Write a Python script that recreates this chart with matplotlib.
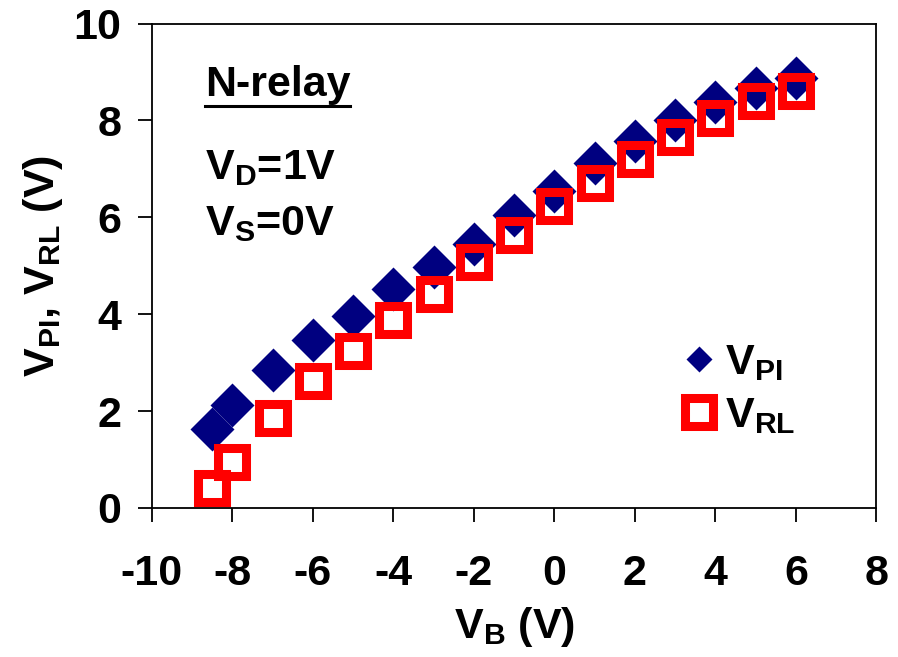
import matplotlib
matplotlib.use("Agg")
import matplotlib.pyplot as plt
from matplotlib.lines import Line2D
from matplotlib.transforms import IdentityTransform

# bias voltage V_B (V)
vb = [-8.5, -8, -7, -6, -5, -4, -3, -2, -1, 0, 1, 2, 3, 4, 5, 6]
# pull-in voltage
v_pi = [1.62, 2.12, 2.84, 3.46, 3.96, 4.52, 4.98, 5.45, 6.05, 6.55, 7.12, 7.57, 8.0, 8.38, 8.68, 8.88]
# release voltage
v_rl = [0.41, 0.95, 1.85, 2.63, 3.23, 3.89, 4.42, 5.08, 5.64, 6.24, 6.71, 7.2, 7.65, 8.05, 8.4, 8.6]

xticks = [-10, -8, -6, -4, -2, 0, 2, 4, 6, 8]
yticks = [0, 2, 4, 6, 8, 10]

plt.rcParams['font.family'] = ['Liberation Sans', 'DejaVu Sans']
plt.rcParams['font.weight'] = 'bold'
plt.rcParams['axes.labelweight'] = 'bold'
plt.rcParams['axes.unicode_minus'] = False
plt.rcParams['mathtext.fontset'] = 'custom'
plt.rcParams['mathtext.rm'] = 'Liberation Sans:bold'
plt.rcParams['mathtext.it'] = 'Liberation Sans:bold'
plt.rcParams['mathtext.bf'] = 'Liberation Sans:bold'
plt.rcParams['mathtext.default'] = 'regular'

FS = 31

fig = plt.figure(figsize=(8.98, 6.57), dpi=100)
ax = fig.add_axes([0.169, 0.227, 0.807, 0.737])

ax.plot(vb, v_pi, 'D', color='#000080', ms=22, mec='none', zorder=2)
ax.plot(vb, v_rl, 's', mfc='none', mec='#ff0000', mew=6.5, ms=20, zorder=3)

ax.set_xlim(-10, 8)
ax.set_ylim(0, 10)
ax.set_xticks(xticks)
ax.set_yticks(yticks)
ax.tick_params(axis='both', direction='out', length=10, width=1.3, labelsize=FS)
ax.tick_params(axis='x', pad=23)
ax.tick_params(axis='y', pad=12)
for s in ax.spines.values():
    s.set_linewidth(1.3)

ax.set_xlabel('V$_B$ (V)', fontsize=FS, fontweight='bold', labelpad=8)
ax.set_ylabel('V$_{PI}$, V$_{RL}$ (V)', fontsize=FS, fontweight='bold', labelpad=6)

t = ax.text(0.073, 0.851, 'N-relay', transform=ax.transAxes, fontsize=FS, va='baseline')
ax.text(0.073, 0.678, 'V$_D$=1V', transform=ax.transAxes, fontsize=FS, va='baseline')
ax.text(0.073, 0.564, 'V$_S$=0V', transform=ax.transAxes, fontsize=FS, va='baseline')

handles = [
    Line2D([], [], marker='D', ls='none', color='#000080', ms=13, mec='none'),
    Line2D([], [], marker='s', ls='none', mfc='none', mec='#ff0000', mew=6.5, ms=20),
]
ax.legend(handles, ['V$_{PI}$', 'V$_{RL}$'], loc='center left', bbox_to_anchor=(0.726, 0.244),
          frameon=False, fontsize=FS, handletextpad=0.1, labelspacing=0.3,
          handlelength=1.0, borderpad=0, borderaxespad=0)

# underline for "N-relay"
fig.canvas.draw()
bb = t.get_window_extent()
fig.add_artist(Line2D([bb.x0, bb.x1], [bb.y0 - 1, bb.y0 - 1], transform=IdentityTransform(),
                      color='black', lw=2.2))

fig.savefig('out.png', dpi=100)
